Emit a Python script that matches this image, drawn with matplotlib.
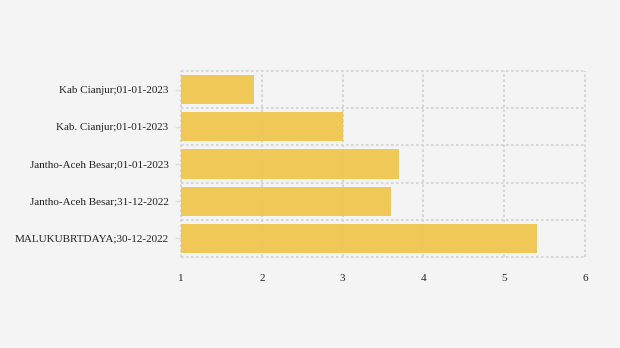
import matplotlib.pyplot as plt
import numpy as np

# ------------------ DATA ------------------ #
LABELS = [
    "Kab Cianjur;01-01-2023",
    "Kab. Cianjur;01-01-2023",
    "Jantho-Aceh Besar;01-01-2023",
    "Jantho-Aceh Besar;31-12-2022",
    "MALUKUBRTDAYA;30-12-2022",
]
VALUES = [1.9, 3.0, 3.7, 3.6, 5.41]
X_TICKS = [1, 2, 3, 4, 5, 6]
# ---------------- END DATA ---------------- #

BG = "#f4f4f4"
BAR_COLOR = "#f0c650"
GRID_COLOR = "#d6d6d6"

plt.rcParams["font.family"] = ["Liberation Serif", "DejaVu Serif"]

fig = plt.figure(figsize=(6.2, 3.48), dpi=100, facecolor=BG)
ax = fig.add_axes([0.292, 0.2615, 0.6515, 0.5345], facecolor=BG)

y = np.arange(len(LABELS))
base = X_TICKS[0]
ax.barh(y, [v - base for v in VALUES], left=base, height=0.78,
        color=BAR_COLOR, alpha=0.95, zorder=3)

ax.set_xlim(X_TICKS[0], X_TICKS[-1])
ax.set_ylim(len(LABELS) - 0.5, -0.5)
ax.set_xticks(X_TICKS)
ax.set_xticklabels([str(t) for t in X_TICKS])
ax.set_yticks(y)
ax.set_yticklabels(LABELS)
ax.set_yticks(np.arange(-0.5, len(LABELS), 1.0), minor=True)

for s in ax.spines.values():
    s.set_visible(False)

ax.tick_params(axis="x", length=0, pad=12, labelsize=8, colors="#222222")
ax.tick_params(axis="y", which="major", length=4, width=1, color="#dddddd",
               pad=5, labelsize=8, labelcolor="#222222")
ax.tick_params(axis="y", which="minor", length=0)

ax.set_axisbelow(True)
ax.grid(axis="x", which="major", color=GRID_COLOR, linestyle=(0, (1.2, 1.2)),
        linewidth=1.5, zorder=1)
ax.grid(axis="y", which="minor", color=GRID_COLOR, linestyle=(0, (1.2, 1.2)),
        linewidth=1.5, zorder=1)
for t in ax.xaxis.get_major_ticks() + ax.yaxis.get_minor_ticks():
    t.gridline.set_clip_on(False)

plt.savefig("out.png", dpi=100, facecolor=BG)
